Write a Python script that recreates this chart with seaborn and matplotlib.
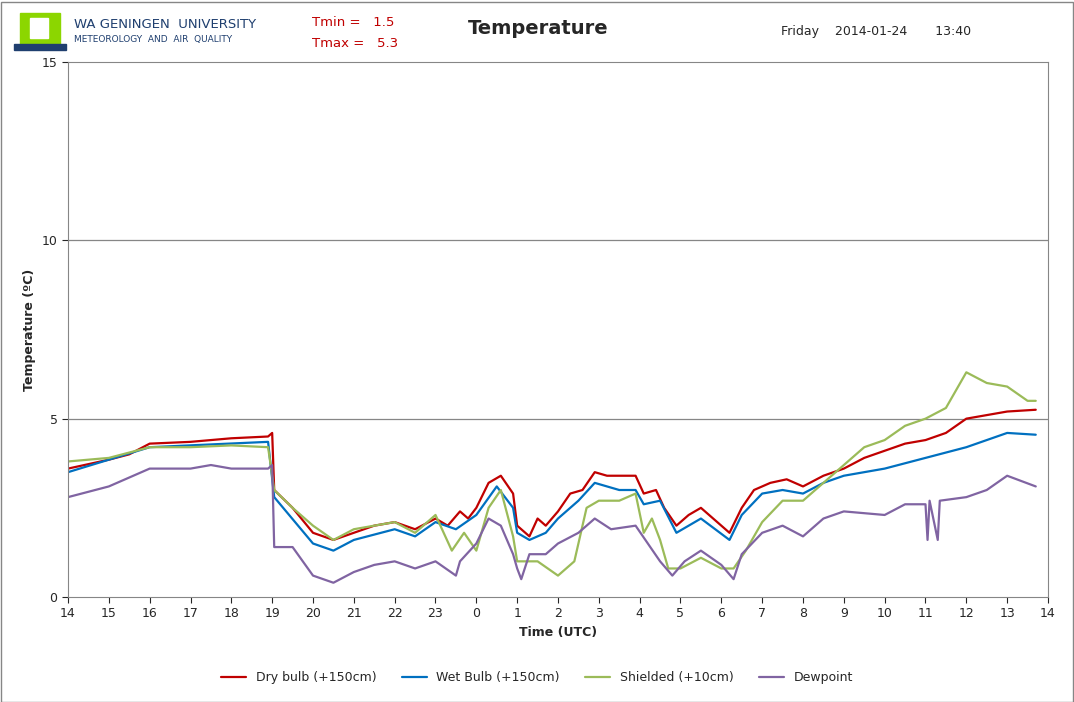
import numpy as np
import pandas as pd
import matplotlib
matplotlib.use("Agg")
import matplotlib.pyplot as plt
import matplotlib.patches as mpatches
import seaborn as sns

sns.set_style("white")
plt.rcParams['font.family'] = ['DejaVu Sans']

# clock hour (UTC) and temperature
dry_t = [14, 15, 15.5, 16, 17, 18, 18.9, 19.0, 19.05, 19.5, 20, 20.5, 21, 21.5, 22, 22.5, 23, 23.3, 23.6, 23.8,
         0, 0.3, 0.6, 0.9, 1.0, 1.3, 1.5, 1.7, 2, 2.3, 2.6, 2.9, 3.2, 3.5, 3.9, 4.1, 4.4, 4.6, 4.9, 5.2, 5.5, 5.8,
         6.2, 6.5, 6.8, 7.2, 7.6, 8, 8.5, 9, 9.5, 10, 10.5, 11, 11.5, 12, 12.5, 13, 13.7]
dry_v = [3.6, 3.85, 4.0, 4.3, 4.35, 4.45, 4.5, 4.6, 3.0, 2.5, 1.8, 1.6, 1.8, 2.0, 2.1, 1.9, 2.2, 2.0, 2.4, 2.2,
         2.5, 3.2, 3.4, 2.9, 2.0, 1.7, 2.2, 2.0, 2.4, 2.9, 3.0, 3.5, 3.4, 3.4, 3.4, 2.9, 3.0, 2.5, 2.0, 2.3, 2.5, 2.2,
         1.8, 2.5, 3.0, 3.2, 3.3, 3.1, 3.4, 3.6, 3.9, 4.1, 4.3, 4.4, 4.6, 5.0, 5.1, 5.2, 5.25]

wet_t = [14, 16, 18.9, 19.05, 20, 20.5, 21, 22, 22.5, 23, 23.5, 0, 0.5, 0.9, 1.0, 1.3, 1.7, 2, 2.5, 2.9, 3.5,
         3.9, 4.1, 4.5, 4.9, 5.5, 6.2, 6.5, 7, 7.5, 8, 8.5, 9, 10, 11, 12, 13, 13.7]
wet_v = [3.5, 4.2, 4.35, 2.8, 1.5, 1.3, 1.6, 1.9, 1.7, 2.1, 1.9, 2.3, 3.1, 2.5, 1.8, 1.6, 1.8, 2.2, 2.7, 3.2, 3.0,
         3.0, 2.6, 2.7, 1.8, 2.2, 1.6, 2.3, 2.9, 3.0, 2.9, 3.2, 3.4, 3.6, 3.9, 4.2, 4.6, 4.55]

shd_t = [14, 15, 16, 17, 18, 18.9, 19.05, 19.5, 20, 20.5, 21, 21.5, 22, 22.5, 23, 23.4, 23.7, 0, 0.3, 0.6, 0.9,
         1.0, 1.5, 2, 2.4, 2.7, 3, 3.5, 3.9, 4.1, 4.3, 4.5, 4.7, 5, 5.5, 6.0, 6.3, 6.6, 7, 7.5, 8, 8.5, 9, 9.5,
         10, 10.5, 11, 11.5, 12, 12.5, 13, 13.5, 13.7]
shd_v = [3.8, 3.9, 4.2, 4.2, 4.25, 4.2, 3.0, 2.5, 2.0, 1.6, 1.9, 2.0, 2.1, 1.8, 2.3, 1.3, 1.8, 1.3, 2.5, 3.0, 1.7,
         1.0, 1.0, 0.6, 1.0, 2.5, 2.7, 2.7, 2.9, 1.8, 2.2, 1.6, 0.8, 0.8, 1.1, 0.8, 0.8, 1.3, 2.1, 2.7, 2.7, 3.2,
         3.7, 4.2, 4.4, 4.8, 5.0, 5.3, 6.3, 6.0, 5.9, 5.5, 5.5]

dew_t = [14, 15, 16, 17, 17.5, 18, 18.9, 19.0, 19.05, 19.5, 20, 20.5, 21, 21.5, 22, 22.5, 23, 23.5, 23.6, 0,
         0.3, 0.6, 0.9, 1.0, 1.1, 1.3, 1.7, 2, 2.5, 2.9, 3.3, 3.9, 4.2, 4.5, 4.8, 5.1, 5.5, 6.0, 6.3, 6.5, 7, 7.5,
         8, 8.5, 9, 10, 10.5, 11, 11.05, 11.1, 11.3, 11.35, 12, 12.5, 13, 13.7]
dew_v = [2.8, 3.1, 3.6, 3.6, 3.7, 3.6, 3.6, 3.7, 1.4, 1.4, 0.6, 0.4, 0.7, 0.9, 1.0, 0.8, 1.0, 0.6, 1.0, 1.5,
         2.2, 2.0, 1.2, 0.8, 0.5, 1.2, 1.2, 1.5, 1.8, 2.2, 1.9, 2.0, 1.5, 1.0, 0.6, 1.0, 1.3, 0.9, 0.5, 1.2, 1.8, 2.0,
         1.7, 2.2, 2.4, 2.3, 2.6, 2.6, 1.6, 2.7, 1.6, 2.7, 2.8, 3.0, 3.4, 3.1]

tick_labels = [14, 15, 16, 17, 18, 19, 20, 21, 22, 23, 0, 1, 2, 3, 4, 5, 6, 7, 8, 9, 10, 11, 12, 13, 14]

series = [("Dry bulb (+150cm)", dry_t, dry_v, "#C00000"),
          ("Wet Bulb (+150cm)", wet_t, wet_v, "#0070C0"),
          ("Shielded (+10cm)", shd_t, shd_v, "#9BBB59"),
          ("Dewpoint", dew_t, dew_v, "#8064A2")]

frames = []
for name, t, v, _ in series:
    el = (np.array(t, dtype=float) - 14) % 24
    frames.append(pd.DataFrame({"elapsed": el, "temp": v, "series": name}))
df = pd.concat(frames, ignore_index=True)

fig = plt.figure(figsize=(10.74, 7.02), dpi=100)
ax = fig.add_axes([68 / 1074, 1 - 597 / 702, 980 / 1074, 535 / 702])
sns.lineplot(data=df, x="elapsed", y="temp", hue="series", sort=False,
             palette={n: c for n, _, _, c in series}, linewidth=1.6, ax=ax, legend=True)

ax.set_xlim(0, 24)
ax.set_ylim(0, 15)
ax.set_xticks(range(25))
ax.set_xticklabels(tick_labels, fontsize=9)
ax.set_yticks([0, 5, 10, 15])
ax.set_yticks([2.5, 7.5, 12.5], minor=True)
ax.tick_params(axis="both", which="both", direction="out", length=4, labelsize=9)
ax.tick_params(axis="x", bottom=True)
ax.tick_params(axis="y", left=True)
for y in (5, 10):
    ax.axhline(y, color="#868686", lw=0.9, zorder=0)
for s in ax.spines.values():
    s.set_color("#868686")
ax.set_xlabel("Time (UTC)", fontsize=9, fontweight="bold")
ax.set_ylabel("Temperature (ºC)", fontsize=9, fontweight="bold")

handles, labels = ax.get_legend_handles_labels()
ax.legend(handles, labels, loc="center", bbox_to_anchor=(0.5, (702 - 678) / 702),
          bbox_transform=fig.transFigure, ncol=4, frameon=False, fontsize=9, columnspacing=2)

# header
fig.add_artist(mpatches.Rectangle((0.5 / 1074, 0.5 / 702), 1072 / 1074, 700 / 702, fill=False,
                                  edgecolor="#868686", lw=1, transform=fig.transFigure))
fig.add_artist(mpatches.Rectangle((20 / 1074, 1 - 45 / 702), 40 / 1074, 32 / 702, color="#8CD600",
                                  transform=fig.transFigure))
fig.add_artist(mpatches.Rectangle((30 / 1074, 1 - 38 / 702), 18 / 1074, 20 / 702, color="white",
                                  transform=fig.transFigure))
fig.add_artist(mpatches.Rectangle((14 / 1074, 1 - 50 / 702), 52 / 1074, 6 / 702, color="#1F3F6F",
                                  transform=fig.transFigure))
fig.text(74 / 1074, 1 - 28 / 702, "WA GENINGEN  UNIVERSITY", fontsize=9.5, color="#1F3F6F")
fig.text(74 / 1074, 1 - 42 / 702, "METEOROLOGY  AND  AIR  QUALITY", fontsize=6.5, color="#1F3F6F")
fig.text(312 / 1074, 1 - 26 / 702, "Tmin =   1.5", fontsize=9.5, color="#C00000")
fig.text(312 / 1074, 1 - 47 / 702, "Tmax =   5.3", fontsize=9.5, color="#C00000")
fig.text(538 / 1074, 1 - 29 / 702, "Temperature", fontsize=14, fontweight="bold", ha="center", va="center")
fig.text(781 / 1074, 1 - 35 / 702, "Friday    2014-01-24       13:40", fontsize=9)

fig.savefig("out.png", dpi=100)
